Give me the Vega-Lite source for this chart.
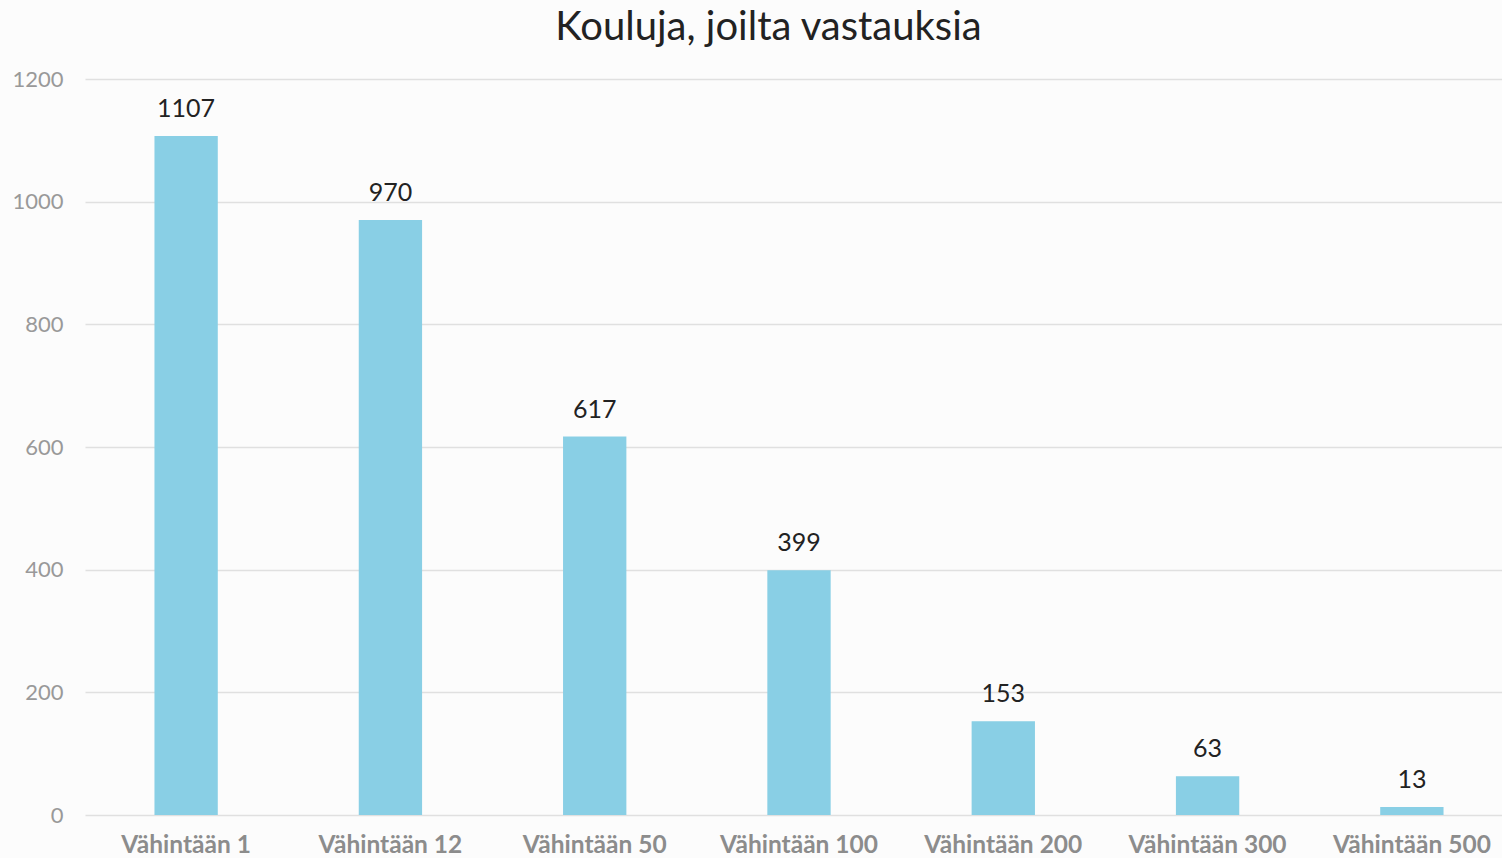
{
  "$schema": "https://vega.github.io/schema/vega-lite/v6.json",
  "width": 1417,
  "height": 736,
  "autosize": {"type": "none"},
  "padding": {"left": 85, "top": 79, "right": 0, "bottom": 43},
  "background": "#fcfcfc",
  "title": {
    "text": "Kouluja, joilta vastauksia",
    "font": "Lato",
    "fontSize": 40,
    "fontWeight": "normal",
    "color": "#222222",
    "anchor": "middle",
    "dx": -25,
    "offset": 20
  },
  "data": {
    "values": [
      {"ryhma": "Vähintään 1", "kouluja": 1107},
      {"ryhma": "Vähintään 12", "kouluja": 970},
      {"ryhma": "Vähintään 50", "kouluja": 617},
      {"ryhma": "Vähintään 100", "kouluja": 399},
      {"ryhma": "Vähintään 200", "kouluja": 153},
      {"ryhma": "Vähintään 300", "kouluja": 63},
      {"ryhma": "Vähintään 500", "kouluja": 13}
    ]
  },
  "encoding": {
    "x": {
      "field": "ryhma",
      "type": "nominal",
      "sort": null,
      "scale": {"paddingInner": 0.69, "paddingOuter": 0.34, "range": [0, 1428]},
      "axis": {
        "title": null,
        "labelAngle": 0,
        "labelFont": "Lato",
        "labelFontSize": 24.5,
        "labelFontWeight": "bold",
        "labelColor": "#8c8c8c",
        "labelPadding": 18,
        "labelBaseline": "top",
        "ticks": false,
        "domain": false,
        "grid": false
      }
    },
    "y": {
      "field": "kouluja",
      "type": "quantitative",
      "scale": {"domain": [0, 1200]},
      "axis": {
        "title": null,
        "values": [0, 200, 400, 600, 800, 1000, 1200],
        "format": "d",
        "labelFont": "Lato",
        "labelFontSize": 22,
        "labelColor": "#999999",
        "labelPadding": 22,
        "ticks": false,
        "domain": false,
        "gridColor": "#e0e0e0",
        "gridWidth": 1.5
      }
    }
  },
  "layer": [
    {"mark": {"type": "bar", "color": "#89cfe5"}},
    {
      "mark": {
        "type": "text",
        "baseline": "bottom",
        "dy": -14,
        "font": "Lato",
        "fontSize": 25,
        "color": "#222222"
      },
      "encoding": {"text": {"field": "kouluja", "type": "quantitative"}}
    }
  ],
  "config": {"view": {"stroke": null}}
}
